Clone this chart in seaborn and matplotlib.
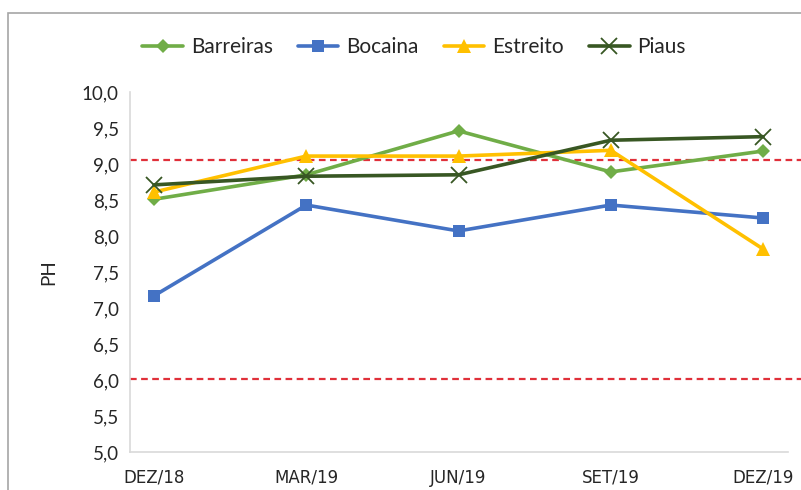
import matplotlib
matplotlib.use("Agg")
import matplotlib.pyplot as plt
import seaborn as sns
import pandas as pd
from matplotlib.patches import Rectangle

periods = ["DEZ/18", "MAR/19", "JUN/19", "SET/19", "DEZ/19"]
barreiras = [8.51, 8.85, 9.46, 8.89, 9.18]
bocaina = [7.17, 8.43, 8.07, 8.43, 8.25]
estreito = [8.61, 9.11, 9.11, 9.19, 7.82]
piaus = [8.71, 8.83, 8.85, 9.33, 9.38]
limits = [9.05, 6.02]
yticks = [5.0, 5.5, 6.0, 6.5, 7.0, 7.5, 8.0, 8.5, 9.0, 9.5, 10.0]

series = {"Barreiras": barreiras, "Bocaina": bocaina, "Estreito": estreito, "Piaus": piaus}
rows = []
for name, vals in series.items():
    for i, v in enumerate(vals):
        rows.append({"idx": i, "PH": v, "site": name})
df = pd.DataFrame(rows)

sns.set_theme(style="white")
plt.rcParams["font.family"] = ["Lato", "DejaVu Sans"]

fig = plt.figure(figsize=(8.01, 4.9), dpi=100)
ax = fig.add_axes([130 / 801, 38 / 490, 658 / 801, 360 / 490])

palette = {"Barreiras": "#70AD47", "Bocaina": "#4472C4", "Estreito": "#FFC000", "Piaus": "#385723"}
markers = {"Barreiras": "D", "Bocaina": "s", "Estreito": "^", "Piaus": "x"}
msizes = {"Barreiras": 7, "Bocaina": 9, "Estreito": 9.5, "Piaus": 11}

for name in series:
    sub = df[df.site == name]
    mk = markers[name]
    sns.lineplot(data=sub, x="idx", y="PH", ax=ax, color=palette[name], linewidth=2.6,
                 marker=mk, markersize=msizes[name],
                 markeredgewidth=1.3 if mk == "x" else 0,
                 markeredgecolor=palette[name], label=name, zorder=3)

x0 = -0.158
x1 = 4.164
xr = (801 - 154) / 152.25
for y in limits:
    ax.plot([x0, xr], [y, y], color="#E0303A", linestyle=(0, (3, 2)), linewidth=1.6,
            clip_on=False, zorder=2)

ax.set_xlim(x0, x1)
ax.set_ylim(5.0, 10.0)
ax.set_yticks(yticks)
ax.set_yticklabels([f"{t:.1f}".replace(".", ",") for t in yticks], fontsize=13.5)
ax.set_xticks(range(len(periods)))
ax.set_xticklabels(periods, fontsize=12, family=["DejaVu Sans"])
ax.set_xticks([i - 0.155 for i in range(1, 5)], minor=True)
ax.tick_params(axis="x", which="major", length=0, pad=12)
ax.tick_params(axis="x", which="minor", length=4, color="#BFBFBF", direction="out", width=1)
ax.tick_params(axis="y", length=0, pad=8)
ax.set_xlabel("")
ax.set_ylabel("PH", fontsize=13.5, labelpad=18)

for s in ["top", "right"]:
    ax.spines[s].set_visible(False)
for s in ["left", "bottom"]:
    ax.spines[s].set_color("#D9D9D9")
    ax.spines[s].set_linewidth(1.2)

handles, labels = ax.get_legend_handles_labels()
if ax.legend_:
    ax.legend_.remove()
fig.legend(handles, labels, loc="center", bbox_to_anchor=(0.517, 0.904), ncol=4,
           frameon=False, fontsize=15, handlelength=1.95, columnspacing=1.2,
           handletextpad=0.38)

fig.patches.append(Rectangle((8 / 801, -0.05), 1.1, 1 - 13 / 490 + 0.05,
                             transform=fig.transFigure, fill=False,
                             edgecolor="#A6A6A6", linewidth=1.2))

fig.savefig("out.png", dpi=100)
